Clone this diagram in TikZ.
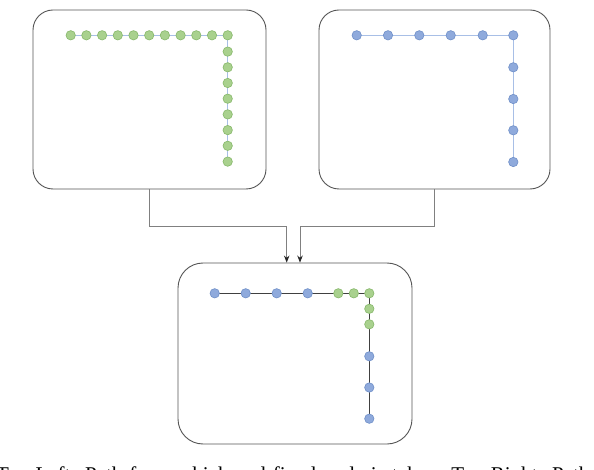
\documentclass[tikz,border=0pt]{standalone}
\usepackage{fontspec}
\setmainfont{Liberation Serif}
\usetikzlibrary{calc,arrows.meta}
\definecolor{boxline}{HTML}{555555}
\definecolor{gfill}{HTML}{A9D18E}
\definecolor{gedge}{HTML}{86B86A}
\definecolor{bfill}{HTML}{8FAADC}
\definecolor{bedge}{HTML}{6F8FC8}
\definecolor{lblue}{HTML}{A8BFE6}
\definecolor{conn}{HTML}{808080}
\tikzset{
  panel/.style={draw=boxline, line width=0.9pt, rounded corners=#1, inner sep=0pt},
  gdot/.style={circle, fill=gfill, draw=gedge, line width=0.6pt, minimum size=9.4pt, inner sep=0pt},
  bdot/.style={circle, fill=bfill, draw=bedge, line width=0.6pt, minimum size=9.4pt, inner sep=0pt},
  lightpath/.style={draw=lblue, line width=0.9pt},
  lightpaththick/.style={draw=lblue, line width=1.4pt},
  darkpath/.style={draw=black!75, line width=0.8pt},
  feed/.style={draw=conn, line width=0.8pt, -{Stealth[length=7pt,width=5.5pt,color=black!85]}},
  captionfont/.style={font=\fontsize{21}{25}\selectfont}
}
\begin{document}
\begin{tikzpicture}[x=1pt,y=-1pt]
\clip (0,0) rectangle (594,470);
\useasboundingbox (0,0) rectangle (594,470);
\fill[white] (0,0) rectangle (594,470);

% panels
\node[panel=20pt, minimum width=233pt, minimum height=179pt] (tl) at (149.5,99.5) {};
\node[panel=20pt, minimum width=231pt, minimum height=179pt] (tr) at (434.5,99.5) {};
\node[panel=25pt, minimum width=234pt, minimum height=181pt] (bot) at (295,353.5) {};

% top-left path (green, dense)
\foreach \i [count=\k from 1] in {70.7,86.4,102.1,117.8,133.5,149.2,164.9,180.6,196.3,212.0}
  \coordinate (gh\k) at (\i,35.3);
\coordinate (gc) at (227.7,35.3);
\foreach \j [count=\k from 1] in {51.6,67.3,83.0,98.7,114.4,130.1,145.8,161.6}
  \coordinate (gv\k) at (227.7,\j);
\path[lightpath] (gh1) -- (gc) -- (gv8);
\foreach \k in {1,...,10} \node[gdot] (ghn\k) at (gh\k) {};
\node[gdot] (gcn) at (gc) {};
\foreach \k in {1,...,8} \node[gdot] (gvn\k) at (gv\k) {};

% top-right path (blue, sparse)
\foreach \i [count=\k from 1] in {356.7,388.0,419.3,450.7,482.7}
  \coordinate (bh\k) at (\i,35.3);
\coordinate (bc) at (513.3,35.3);
\foreach \j [count=\k from 1] in {67.3,99.0,130.3,162.0}
  \coordinate (bv\k) at (513.3,\j);
\path[lightpaththick] (bh1) -- (bc) -- (bv4);
\foreach \k in {1,...,5} \node[bdot] (bhn\k) at (bh\k) {};
\node[bdot] (bcn) at (bc) {};
\foreach \k in {1,...,4} \node[bdot] (bvn\k) at (bv\k) {};

% bottom combined path
\coordinate (c1) at (214.7,293.3);
\coordinate (c2) at (245.7,293.3);
\coordinate (c3) at (276.7,293.3);
\coordinate (c4) at (307.7,293.3);
\coordinate (c5) at (338.3,293.3);
\coordinate (c6) at (353.8,293.3);
\coordinate (cc) at (369.3,293.3);
\coordinate (c8) at (369.3,308.8);
\coordinate (c9) at (369.3,324.3);
\coordinate (c10) at (369.3,356.3);
\coordinate (c11) at (369.3,387.5);
\coordinate (c12) at (369.3,418.7);
\path[darkpath] (c1) -- (cc) -- (c12);
\foreach \k in {1,2,3,4,10,11,12} \node[bdot] (cn\k) at (c\k) {};
\foreach \k in {5,6,8,9} \node[gdot] (cn\k) at (c\k) {};
\node[gdot] (cnc) at (cc) {};

% connectors
\draw[feed] (tl.south) -- ++(0,37) -| ([xshift=-8.3pt]bot.north);
\draw[feed] (tr.south) -- ++(0,37) -| ([xshift=5pt]bot.north);

% caption (cut off by the lower edge, as in the reference)
\node[captionfont, anchor=base west, inner sep=0pt, align=left] (cap) at (-4,481)
  {\spaceskip=7pt plus 2pt Top Left: Path from which end fixed node is taken. Top Right: Path from};
\end{tikzpicture}
\end{document}
